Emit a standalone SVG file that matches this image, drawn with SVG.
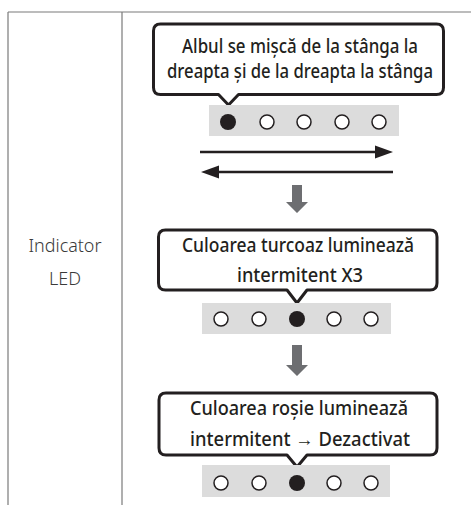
<svg xmlns="http://www.w3.org/2000/svg" width="471" height="505" viewBox="0 0 471 505">
<defs>
<style>
.tbl{stroke:#7a7a7a;stroke-width:1.2;fill:none}
.bub{fill:#fff;stroke:#231f20;stroke-width:3;stroke-linejoin:round}
.bt{font-family:"Noto Sans","Liberation Sans",sans-serif;font-size:19px;font-weight:500;fill:#231f20;text-anchor:middle}
.lbl{font-family:"Noto Sans","Liberation Sans",sans-serif;font-size:18px;font-weight:300;fill:#3a3a3a;text-anchor:middle}
.bar{fill:#dcdcdc}
.on{fill:#231f20}
.off{fill:#fff;stroke:#231f20;stroke-width:1.5}
.ln{stroke:#231f20;stroke-width:2.5}
.hd{fill:#231f20}
.dn{fill:#6d6e71}
</style>
</defs>
<g id="table">
<line class="tbl" x1="8" y1="12" x2="471" y2="12"/>
<line class="tbl" x1="8" y1="12" x2="8" y2="505"/>
<line class="tbl" x1="122" y1="12" x2="122" y2="505"/>
</g>
<g id="label">
<text class="lbl" x="65" y="252" textLength="73" lengthAdjust="spacingAndGlyphs">Indicator</text>
<text class="lbl" x="65" y="285" textLength="32" lengthAdjust="spacingAndGlyphs">LED</text>
</g>
<g id="bubble1">
<path class="bub" d="M160.5,24 H436.5 Q443.5,24 443.5,31 V87.5 Q443.5,94.5 436.5,94.5 H238.5 L228.5,105 L218.5,94.5 H160.5 Q153.5,94.5 153.5,87.5 V31 Q153.5,24 160.5,24 Z"/>
<text class="bt" x="300" y="53" textLength="236" lengthAdjust="spacingAndGlyphs">Albul se mișcă de la stânga la</text>
<text class="bt" x="300" y="78" textLength="266" lengthAdjust="spacingAndGlyphs">dreapta și de la dreapta la stânga</text>
</g>
<g id="leds1">
<rect class="bar" x="209" y="105" width="190" height="31"/>
<circle class="on" cx="228" cy="122" r="8"/>
<circle class="off" cx="267" cy="122" r="7"/>
<circle class="off" cx="304" cy="122" r="7"/>
<circle class="off" cx="342" cy="122" r="7"/>
<circle class="off" cx="379" cy="122" r="7"/>
</g>
<g id="connectors">
<line class="ln" x1="200" y1="152" x2="378" y2="152"/>
<polygon class="hd" points="393,152 375,145.5 375,158.5"/>
<line class="ln" x1="393" y1="172" x2="216" y2="172"/>
<polygon class="hd" points="201,172 219,165.5 219,178.5"/>
<polygon class="dn" points="292,185 302,185 302,202 308,202 297,213 286,202 292,202"/>
<polygon class="dn" points="292,345 302,345 302,365 308,365 297,376 286,365 292,365"/>
</g>
<g id="bubble2">
<path class="bub" d="M165.5,230 H430 Q437,230 437,237 V283 Q437,290 430,290 H307 L297,303 L287,290 H165.5 Q158.5,290 158.5,283 V237 Q158.5,230 165.5,230 Z"/>
<text class="bt" x="298" y="252" textLength="232" lengthAdjust="spacingAndGlyphs">Culoarea turcoaz luminează</text>
<text class="bt" x="300" y="282" textLength="126" lengthAdjust="spacingAndGlyphs">intermitent X3</text>
</g>
<g id="leds2">
<rect class="bar" x="202" y="303" width="189" height="31"/>
<circle class="off" cx="221" cy="319" r="7"/>
<circle class="off" cx="259" cy="319" r="7"/>
<circle class="on" cx="297" cy="319" r="8"/>
<circle class="off" cx="334" cy="319" r="7"/>
<circle class="off" cx="371" cy="319" r="7"/>
</g>
<g id="bubble3">
<path class="bub" d="M166,393 H430 Q437,393 437,400 V448 Q437,455 430,455 H307 L297,467 L287,455 H166 Q159,455 159,448 V400 Q159,393 166,393 Z"/>
<text class="bt" x="299" y="415" textLength="218" lengthAdjust="spacingAndGlyphs">Culoarea roșie luminează</text>
<text class="bt" x="300" y="446" textLength="220" lengthAdjust="spacingAndGlyphs">intermitent → Dezactivat</text>
</g>
<g id="leds3">
<rect class="bar" x="202" y="465" width="188" height="32"/>
<circle class="off" cx="221" cy="483" r="7"/>
<circle class="off" cx="259" cy="483" r="7"/>
<circle class="on" cx="297" cy="483" r="8"/>
<circle class="off" cx="334" cy="483" r="7"/>
<circle class="off" cx="371" cy="483" r="7"/>
</g>
</svg>
